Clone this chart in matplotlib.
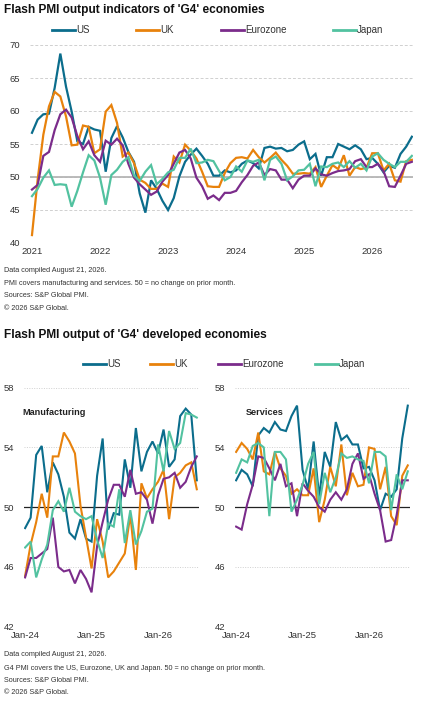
import matplotlib
matplotlib.use("Agg")
import matplotlib.pyplot as plt
from matplotlib.lines import Line2D
import numpy as np

plt.rcParams['font.family'] = ['Liberation Sans', 'DejaVu Sans']

# ---- data: composite output, Jan 2021 - Aug 2026 (monthly)
year_labels = ["2021", "2022", "2023", "2024", "2025", "2026"]
series_names = ["US", "UK", "Eurozone", "Japan"]
colors = ["#0b6d8c", "#e8820c", "#7b2c8b", "#52c2a0"]

us_comp = [56.7, 58.7, 59.5, 59.6, 63.5, 68.7, 63.7, 59.9, 55.4, 55.0, 57.6, 57.2,
           57.0, 50.8, 55.9, 57.7, 56.0, 53.8, 52.3, 47.5, 44.6, 49.5, 48.2, 46.4,
           45.0, 46.8, 50.1, 52.3, 53.4, 54.3, 53.2, 52.0, 50.2, 50.2, 51.0, 50.7,
           51.0, 52.0, 52.5, 52.1, 51.3, 54.4, 54.6, 54.3, 54.4, 53.9, 54.1, 54.9,
           55.4, 52.7, 53.5, 50.2, 53.0, 53.0, 55.0, 54.6, 54.2, 54.8, 54.2, 52.7,
           52.9, 52.0, 50.7, 51.7, 51.4, 53.5, 54.6, 56.1]
uk_comp = [41.2, 49.6, 56.4, 60.7, 62.9, 62.2, 59.2, 54.8, 54.9, 57.8, 57.6, 53.6,
           54.2, 59.9, 60.9, 58.2, 53.1, 53.7, 52.1, 49.6, 49.1, 48.2, 48.2, 49.0,
           48.5, 53.1, 52.2, 54.9, 54.0, 52.8, 50.8, 48.6, 48.5, 48.5, 50.6, 52.1,
           52.9, 53.0, 52.8, 54.1, 53.0, 52.2, 52.9, 53.7, 52.6, 51.7, 50.5, 50.5,
           50.6, 50.5, 51.5, 48.5, 50.2, 51.8, 51.2, 53.3, 50.2, 51.5, 51.2, 51.4,
           53.6, 53.6, 51.0, 52.0, 49.5, 49.3, 52.4, 52.6]
ez_comp = [48.1, 48.8, 53.2, 53.8, 57.1, 59.5, 60.2, 59.0, 56.2, 54.2, 55.4, 53.3,
           52.3, 55.5, 54.9, 55.8, 54.8, 52.0, 49.9, 48.9, 48.1, 47.3, 47.8, 49.3,
           50.3, 52.0, 53.7, 54.1, 52.8, 49.9, 48.6, 46.7, 47.2, 46.5, 47.6, 47.6,
           47.9, 49.2, 50.3, 51.7, 52.2, 50.3, 51.2, 51.0, 49.6, 49.6, 48.3, 49.6,
           50.2, 50.2, 51.3, 50.4, 50.2, 50.6, 50.9, 51.0, 51.2, 52.4, 52.7, 51.5,
           51.5, 52.0, 50.9, 48.6, 48.5, 50.2, 52.0, 52.3]
jp_comp = [47.1, 48.2, 49.9, 51.0, 48.8, 48.9, 48.8, 45.5, 47.9, 50.7, 53.3, 52.5,
           49.9, 45.8, 50.3, 51.1, 52.3, 53.0, 50.2, 49.4, 50.8, 51.8, 48.9, 49.7,
           50.7, 51.1, 52.9, 52.9, 54.3, 52.1, 52.2, 52.6, 52.4, 50.9, 49.5, 50.0,
           51.6, 50.8, 52.5, 52.3, 52.6, 49.5, 52.6, 53.1, 52.0, 49.5, 50.1, 51.0,
           51.1, 52.0, 48.6, 51.6, 51.5, 52.0, 52.2, 51.5, 52.4, 51.4, 52.0, 51.0,
           53.1, 53.6, 52.6, 52.0, 51.5, 52.3, 52.3, 53.2]

# ---- data: manufacturing / services output, Jan 2024 - Aug 2026
sub_labels = ["Jan-24", "Jan-25", "Jan-26"]
us_mfg = [48.6, 49.3, 53.5, 54.1, 51.0, 53.0, 52.2, 50.7, 48.3, 47.9, 49.2, 47.9,
          47.7, 52.1, 54.6, 48.5, 49.6, 49.5, 53.2, 51.3, 55.3, 52.4, 53.7, 54.4,
          53.6, 55.2, 52.7, 53.2, 56.1, 56.6, 56.2, 51.8]
uk_mfg = [45.4, 47.5, 49.0, 50.9, 49.3, 53.4, 53.4, 55.0, 54.4, 53.6, 50.1, 48.0,
          45.9, 49.2, 47.7, 45.3, 45.7, 46.3, 46.9, 49.5, 45.8, 51.6, 50.6, 51.2,
          51.7, 52.5, 49.2, 52.0, 52.3, 52.8, 53.0, 51.2]
ez_mfg = [45.3, 46.6, 46.6, 46.9, 47.2, 49.3, 46.0, 45.7, 45.8, 44.9, 45.8, 45.2,
          44.3, 47.4, 49.0, 50.5, 51.5, 51.5, 50.7, 52.5, 50.9, 51.0, 50.5, 48.9,
          50.8, 51.9, 52.0, 52.3, 51.3, 51.7, 52.7, 53.4]
jp_mfg = [47.3, 47.7, 45.3, 46.5, 47.5, 49.8, 50.4, 49.7, 51.3, 49.7, 49.4, 49.2,
          49.4, 47.8, 46.6, 48.9, 48.7, 51.2, 47.6, 49.8, 47.5, 48.4, 49.7, 49.9,
          54.2, 52.4, 55.1, 53.9, 54.3, 56.3, 56.2, 56.0]
us_svc = [51.8, 52.5, 52.2, 51.4, 54.8, 55.3, 55.0, 55.7, 55.2, 55.1, 56.1, 56.8,
          52.5, 51.2, 54.4, 50.7, 53.7, 52.7, 55.7, 54.5, 54.8, 54.2, 54.2, 52.6,
          52.7, 51.8, 49.8, 50.9, 50.7, 51.2, 54.6, 56.8]
uk_svc = [53.7, 54.3, 53.9, 53.2, 55.0, 52.4, 52.2, 53.7, 52.6, 52.1, 50.9, 51.2,
          50.8, 50.8, 52.6, 49.0, 50.5, 52.7, 51.4, 54.2, 50.8, 52.3, 51.4, 51.5,
          54.0, 53.9, 51.2, 52.7, 49.4, 48.8, 52.1, 52.8]
ez_svc = [48.7, 48.5, 50.2, 51.5, 53.4, 53.3, 52.6, 51.8, 52.9, 51.4, 51.6, 49.4,
          51.6, 51.1, 50.7, 50.0, 49.7, 50.5, 51.0, 50.5, 51.2, 52.9, 53.6, 51.9,
          52.2, 50.9, 49.8, 47.7, 47.8, 49.5, 51.8, 51.8]
jp_svc = [52.3, 53.2, 53.0, 54.1, 54.3, 54.0, 49.4, 53.7, 53.7, 53.2, 49.7, 50.5,
          51.5, 52.9, 53.7, 50.2, 52.3, 51.0, 52.0, 53.6, 53.3, 53.4, 53.2, 53.1,
          51.6, 53.7, 53.7, 53.4, 49.8, 52.2, 51.2, 52.4]

W, H = 423, 703
fig = plt.figure(figsize=(W / 100, H / 100), dpi=100)


def px_axes(x0, y0, x1, y1):
    # pixel box (left, top, right, bottom) -> figure axes
    return fig.add_axes([x0 / W, 1 - y1 / H, (x1 - x0) / W, (y1 - y0) / H])


def fig_text(x, y, s, **kw):
    fig.text(x / W, 1 - y / H, s, va="center", **kw)


def legend_row(y, entries):
    for (x0, name), c in zip(entries, colors):
        fig.add_artist(Line2D([x0 / W, (x0 + 23) / W], [1 - y / H, 1 - y / H],
                              color=c, lw=2, transform=fig.transFigure))
        fig_text(x0 + 24, y, name, fontsize=7, color="#333333")


def style(ax, ymin, ymax, step, zero_color, zero_lw, grid_ls):
    for s in ax.spines.values():
        s.set_visible(False)
    ax.set_ylim(ymin, ymax)
    ax.set_yticks(np.arange(ymin, ymax + 0.1, step))
    ax.grid(axis="y", color="#d0d0d0", lw=0.7, ls=grid_ls)
    ax.axhline(50, color=zero_color, lw=zero_lw, zorder=1)
    ax.tick_params(length=0, labelsize=6.8, labelcolor="#333333")
    ax.set_axisbelow(True)


# ---- top chart
fig_text(4, 10, "Flash PMI output indicators of 'G4' economies",
         fontsize=8.6, fontweight="bold", color="#111111")
legend_row(30, [(52, "US"), (136, "UK"), (221, "Eurozone"), (333, "Japan")])

ax = px_axes(30, 45, 413, 243)
months = np.arange(len(us_comp))
for vals, c in zip([us_comp, uk_comp, ez_comp, jp_comp], colors):
    ax.plot(months, vals, color=c, lw=1.6, solid_joinstyle="miter")
style(ax, 40, 70, 5, "#b5b5b5", 1.3, (0, (3, 2)))
ax.set_xlim(-0.35, 67.2)
ax.set_xticks(np.arange(0, 61, 12))
ax.set_xticklabels(year_labels)
ax.tick_params(axis="y", pad=7)
ax.tick_params(axis="x", pad=3)

notes1 = ["Data compiled August 21, 2026.",
          "PMI covers manufacturing and services. 50 = no change on prior month.",
          "Sources: S&P Global PMI.",
          "\u00a9 2026 S&P Global."]
for i, s in enumerate(notes1):
    fig_text(4, 271 + i * 12.4, s, fontsize=5.2, color="#333333")

# ---- bottom charts
fig_text(4, 335, "Flash PMI output of 'G4' developed economies",
         fontsize=8.6, fontweight="bold", color="#111111")
legend_row(364, [(83, "US"), (150, "UK"), (218, "Eurozone"), (315, "Japan")])

panels = [((24, 199), "Manufacturing", [us_mfg, uk_mfg, ez_mfg, jp_mfg]),
          ((235, 410), "Services", [us_svc, uk_svc, ez_svc, jp_svc])]
for (x0, x1), name, data in panels:
    ax = px_axes(x0, 387.7, x1, 626.7)
    m = np.arange(len(data[0]))
    for vals, c in zip(data, colors):
        ax.plot(m, vals, color=c, lw=1.5, solid_joinstyle="miter")
    style(ax, 42, 58, 4, "#222222", 0.9, (0, (1, 1.5)))
    ax.set_xlim(-0.2, 31.4)
    ax.set_xticks([0, 12, 24])
    ax.set_xticklabels(sub_labels)
    ax.tick_params(axis="y", pad=7)
    ax.tick_params(axis="x", pad=3)
    ax.text(-0.01 if name == "Manufacturing" else 0.06, 0.895, name,
            transform=ax.transAxes, fontsize=6.6, fontweight="bold",
            color="#222222", va="center")

notes2 = ["Data compiled August 21, 2026.",
          "G4 PMI covers the US, Eurozone, UK and Japan. 50 = no change on prior month.",
          "Sources: S&P Global PMI.",
          "\u00a9 2026 S&P Global."]
for y, s in zip([654, 669, 681, 692], notes2):
    fig_text(4, y, s, fontsize=5.2, color="#333333")

fig.savefig("out.png", dpi=100)
